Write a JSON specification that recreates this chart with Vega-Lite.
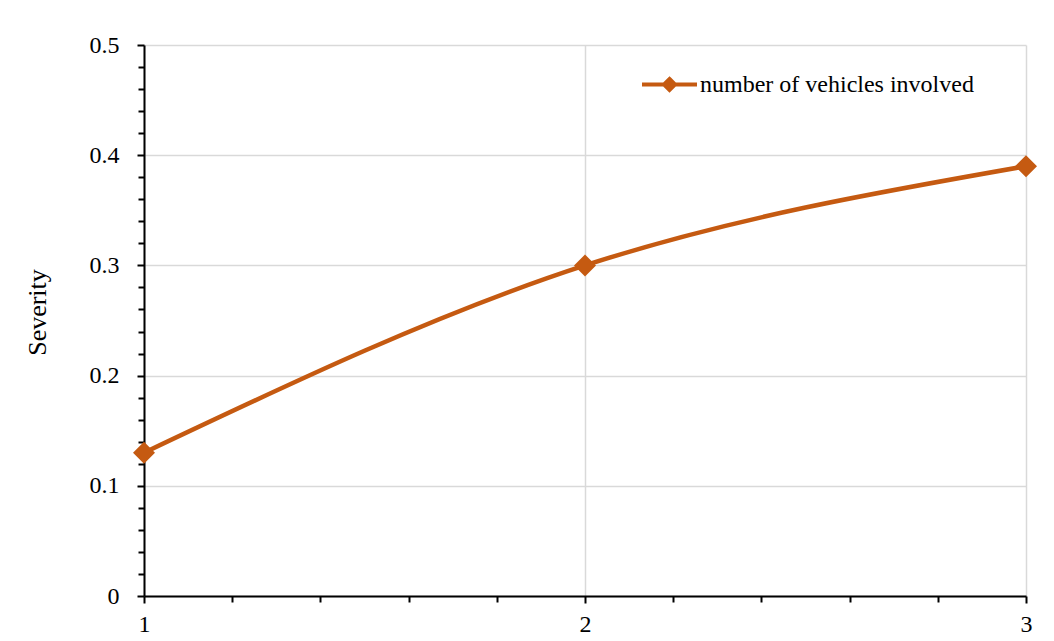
{
  "$schema": "https://vega.github.io/schema/vega-lite/v6.json",
  "width": 882,
  "height": 551,
  "autosize": {"type": "none"},
  "padding": {"left": 144, "top": 45, "right": 28, "bottom": 45},
  "background": "white",
  "config": {
    "view": {"stroke": null},
    "font": "Liberation Serif",
    "axis": {
      "labelFont": "Liberation Serif",
      "labelFontSize": 24,
      "labelColor": "black",
      "labelOverlap": false,
      "labelFlush": false,
      "tickCount": 100,
      "titleFont": "Liberation Serif",
      "titleFontSize": 26,
      "titleColor": "black",
      "titleFontWeight": "normal",
      "domainColor": "black",
      "domainWidth": 2,
      "tickColor": "black",
      "tickWidth": 2,
      "gridColor": "#d9d9d9",
      "gridWidth": 1.5
    },
    "legend": {
      "labelFont": "Liberation Serif",
      "labelFontSize": 24,
      "labelColor": "black",
      "labelLimit": 0
    }
  },
  "data": {
    "values": [
      {"vehicles": 1, "severity": 0.13, "series": "number of vehicles involved"},
      {"vehicles": 2, "severity": 0.30, "series": "number of vehicles involved"},
      {"vehicles": 3, "severity": 0.39, "series": "number of vehicles involved"}
    ]
  },
  "layer": [
    {
      "mark": {"type": "line", "interpolate": "monotone", "strokeWidth": 4.5, "strokeCap": "round"},
      "encoding": {
        "x": {
          "field": "vehicles", "type": "quantitative",
          "scale": {"domain": [1, 3], "nice": false, "zero": false},
          "axis": {
            "orient": "bottom",
            "values": [1, 1.2, 1.4, 1.6, 1.8, 2, 2.2, 2.4, 2.6, 2.8, 3],
            "labelExpr": "datum.value % 1 === 0 ? format(datum.value, 'd') : ''",
            "title": null, "tickCount": 100,
            "grid": true,
            "gridOpacity": {"condition": {"test": "datum.value % 1 === 0", "value": 1}, "value": 0},
            "tickSize": {"condition": {"test": "datum.value % 1 === 0", "value": 7}, "value": 6},
            "labelPadding": 9, "labelOverlap": false, "labelFlush": false
          }
        },
        "y": {
          "field": "severity", "type": "quantitative",
          "scale": {"domain": [0, 0.5], "nice": false},
          "axis": {
            "orient": "left",
            "values": [0, 0.02, 0.04, 0.06, 0.08, 0.1, 0.12, 0.14, 0.16, 0.18, 0.2, 0.22, 0.24, 0.26, 0.28, 0.3, 0.32, 0.34, 0.36, 0.38, 0.4, 0.42, 0.44, 0.46, 0.48, 0.5],
            "labelExpr": "round(datum.value * 100) % 10 === 0 ? format(datum.value, '.1~f') : ''",
            "tickCount": 100,
            "title": "Severity", "grid": true,
            "gridOpacity": {"condition": {"test": "round(datum.value * 100) % 10 === 0", "value": 1}, "value": 0},
            "tickSize": {"condition": {"test": "round(datum.value * 100) % 10 === 0", "value": 7}, "value": 6},
            "labelPadding": 18, "labelOverlap": false,
            "titleX": -107, "titleY": 267, "titleAngle": -90, "titleAlign": "center", "titleBaseline": "middle"
          }
        },
        "color": {
          "field": "series", "type": "nominal",
          "scale": {"range": ["#C55A11"]},
          "legend": {
            "title": null, "orient": "none", "legendX": 496, "legendY": 10,
            "symbolType": "M-1,0H1M0,-0.2L0.2,0L0,0.2L-0.2,0Z",
            "symbolSize": 3025, "symbolStrokeWidth": 4,
            "symbolFillColor": "#C55A11", "symbolStrokeColor": "#C55A11",
            "labelOffset": 1, "labelLimit": 0,
            "encode": {"symbols": {"update": {"fill": {"value": "#C55A11"}, "stroke": {"value": "#C55A11"}, "strokeWidth": {"value": 4}}}}
          }
        }
      }
    },
    {
      "mark": {"type": "point", "shape": "diamond", "filled": true, "size": 484, "opacity": 1, "color": "#C55A11"},
      "encoding": {
        "x": {"field": "vehicles", "type": "quantitative"},
        "y": {"field": "severity", "type": "quantitative"}
      }
    }
  ]
}
